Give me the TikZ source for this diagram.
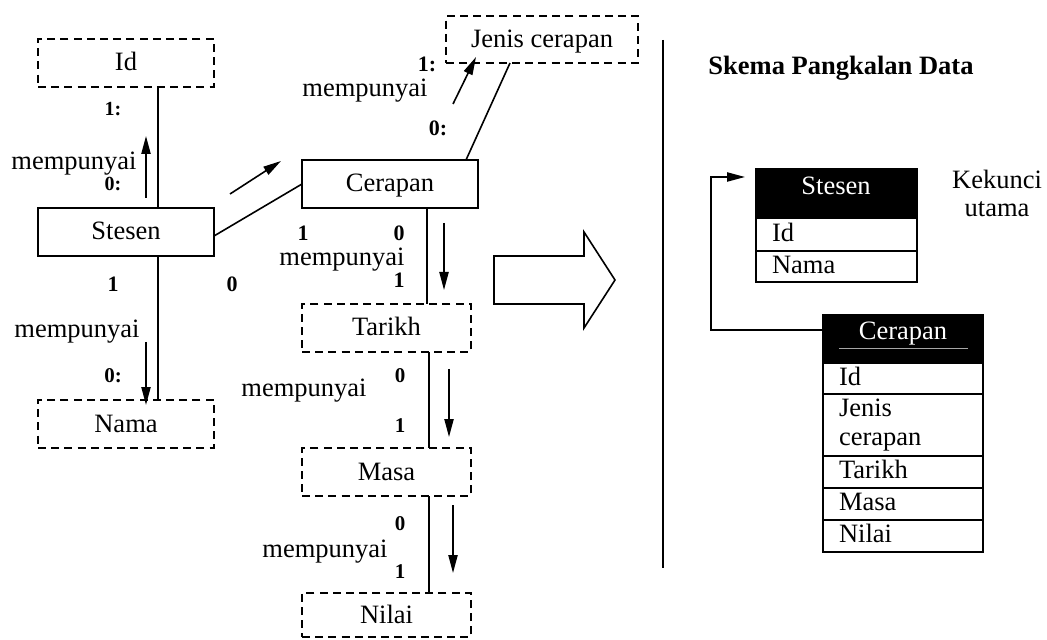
\documentclass[tikz,border=0pt]{standalone}
\usepackage{fontspec}
\setmainfont{Liberation Serif}
\usetikzlibrary{arrows.meta}
\begin{document}
\begin{tikzpicture}[x=0.5pt,y=-0.5pt,
  font=\fontsize{13.25pt}{14pt}\selectfont,
  every node/.style={inner sep=0pt,outer sep=0pt},
  wire/.style={line width=0.8pt},
  dir/.style={line width=0.8pt,-{Triangle[length=9pt,width=4.6pt]}},
  ent/.style={draw,line width=0.8pt,minimum width=88pt,minimum height=24pt,text height=0.8em,text depth=0pt},
  attr/.style={ent,dash pattern=on 4pt off 2.6pt},
  rel/.style={anchor=base},
  card/.style={anchor=base,font=\fontsize{11pt}{12pt}\selectfont\bfseries},
  cardsmall/.style={card,font=\fontsize{10pt}{11pt}\selectfont\bfseries},
  cardmid/.style={card,font=\fontsize{10.5pt}{11pt}\selectfont\bfseries},
  hdr/.style={fill=black,draw=black,line width=1pt,minimum width=80.5pt,anchor=north west},
  row/.style={draw,line width=1pt,anchor=north west,align=left,text width=64.5pt,inner xsep=8pt},
  rowone/.style={row,text height=0.66em,text depth=0pt},
]
\useasboundingbox (0,0) rectangle (1047,640);

% ---------- entity / attribute boxes ----------
\node[attr] (id)      at (126,63)    {Id};
\node[ent]  (stesen)  at (126,232)   {Stesen};
\node[attr] (nama)    at (126,424)   {Nama};
\node[attr,minimum width=96pt,minimum height=23.5pt] (jenis) at (542,39.5) {Jenis cerapan};
\node[ent]  (cerapan) at (390,184)   {Cerapan};
\node[attr,minimum width=84.5pt] (tarikh) at (386.5,328) {Tarikh};
\node[attr,minimum width=84.5pt] (masa)   at (386.5,472) {Masa};
\node[attr,minimum width=84.5pt,minimum height=22pt] (nilai) at (386.5,615) {Nilai};

% ---------- relationship lines ----------
\draw[wire] (id.south -| 158,0) -- (stesen.north -| 158,0);
\draw[wire] (stesen.south -| 158,0) -- (nama.north -| 158,0);
\draw[wire] ([yshift=-2pt]stesen.east) -- (cerapan.west);
\draw[wire] (cerapan.north -| 466,0) -- (jenis.south -| 510,0);
\draw[wire] (cerapan.south -| 427,0) -- (tarikh.north -| 427,0);
\draw[wire] (tarikh.south -| 429,0) -- (masa.north -| 429,0);
\draw[wire] (masa.south -| 429,0) -- (nilai.north -| 429,0);

% ---------- reading-direction arrows ----------
\draw[dir] (146,198) -- (146,136);
\draw[dir] (230,194) -- (281,161);
\draw[dir] (453,104) -- (476,57);
\draw[dir] (444,223) -- (444,290);
\draw[dir] (146,342) -- (146,405);
\draw[dir] (449,369) -- (449,437);
\draw[dir] (453,505) -- (453,573);

% ---------- relationship labels and cardinalities ----------
\node[cardsmall] (c1) at (113,116) {1:};
\node[rel]  (r1) at (74,170)  {mempunyai};
\node[cardsmall] (c2) at (113,191) {0:};

\node[card] (c3) at (113,292) {1};
\node[card] (c4) at (232,292) {0};
\node[rel]  (r2) at (77,338)  {mempunyai};
\node[cardmid] (c5) at (113,383) {0:};

\node[card] (c6) at (427,72)  {1:};
\node[rel]  (r3) at (365,97)  {mempunyai};
\node[card] (c7) at (438,136) {0:};

\node[card] (c8)  at (303,241) {1};
\node[card] (c9)  at (399,241) {0};
\node[rel]  (r4)  at (342,266) {mempunyai};
\node[card] (c10) at (399,288) {1};

\node[cardmid] (c11) at (400,383) {0};
\node[rel]  (r5)  at (304,396) {mempunyai};
\node[cardmid] (c12) at (400,432) {1};

\node[cardmid] (c13) at (400,530) {0};
\node[rel]  (r6)  at (325,557) {mempunyai};
\node[cardmid] (c14) at (400,578) {1};

% ---------- transformation arrow and divider ----------
\draw[wire] (494,256) -- (584,256) -- (584,232) -- (615,280) -- (584,328)
  -- (584,304) -- (494,304) -- cycle;
\draw[wire] (663,40) -- (663,568);

% ---------- database schema ----------
\node[anchor=base,font=\fontsize{13.25pt}{14pt}\selectfont\bfseries] (title) at (841,75) {Skema Pangkalan Data};

\node[hdr,minimum height=24.5pt] (hS) at (756,169) {};
\node[anchor=base,text=white] (hSt) at (836,195) {Stesen};
\node[rowone,minimum height=16.5pt] (sId)   at (756,218) {Id};
\node[rowone,minimum height=15.5pt] (sNama) at (756,251) {Nama};

\node[align=center] (key) at (997,193) {Kekunci\\utama};

\node[hdr,minimum width=80pt,minimum height=24pt] (hC) at (823,315) {};
\node[anchor=base,text=white] (hCt) at (903,340) {Cerapan};
\draw[gray!70,line width=0.4pt] (839,348) -- (968,348);
\node[rowone,text width=64pt,minimum height=15.5pt] (cId)     at (823,363) {Id};
\node[row,text width=64pt,minimum height=31pt,font=\fontsize{13.25pt}{14.5pt}\selectfont] (cJenis) at (823,394) {Jenis\\cerapan};
\node[rowone,text width=64pt,minimum height=16pt] (cTarikh) at (823,456) {Tarikh};
\node[rowone,text width=64pt,minimum height=16pt] (cMasa)   at (823,488) {Masa};
\node[rowone,text width=64pt,minimum height=16pt] (cNilai)  at (823,520) {Nilai};

% foreign key reference from Cerapan back to Stesen
\coordinate (kEnd) at (745,177);
\draw[dir] (hC.west |- 0,330) -| ([xshift=-17pt]kEnd) -- (kEnd);
\end{tikzpicture}
\end{document}
